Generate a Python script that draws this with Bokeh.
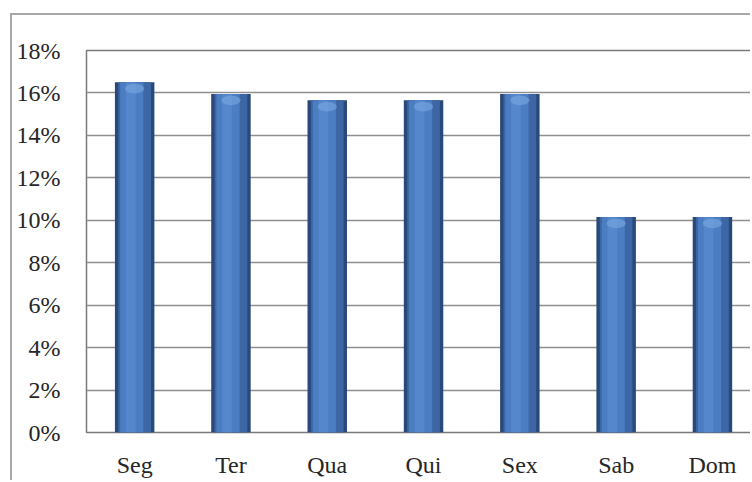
from bokeh.plotting import figure
from bokeh.models import Range1d, FixedTicker
from bokeh.embed import file_html
from bokeh.resources import INLINE

categories = ["Seg", "Ter", "Qua", "Qui", "Sex", "Sab", "Dom"]
values = [16.5, 15.95, 15.65, 15.65, 15.95, 10.15, 10.15]
y_ticks = [0, 2, 4, 6, 8, 10, 12, 14, 16, 18]
y_labels = [f"{t}%" for t in y_ticks]

xs = [i + 0.5 for i in range(len(categories))]

p = figure(width=740, height=467, output_backend="svg", toolbar_location=None,
           x_range=Range1d(0, 6.916), y_range=Range1d(0, 18),
           min_border_left=74, min_border_right=0, min_border_top=35, min_border_bottom=50)
p.styles = {"border-left": "2px solid #a8a8a8", "border-top": "2px solid #a8a8a8",
            "margin-left": "10px", "margin-top": "13px"}
p.background_fill_color = "white"
p.border_fill_color = "white"
p.outline_line_color = "#7a7a7a"
p.outline_line_width = 1.5

# bars: layered to mimic cylinder shading
p.vbar(x=xs, top=values, width=0.41, bottom=0, fill_color="#29497a", line_color=None)
p.vbar(x=xs, top=values, width=0.34, bottom=0, fill_color="#3c66a4", line_color=None)
p.vbar(x=[x - 0.03 for x in xs], top=values, width=0.24, bottom=0, fill_color="#4c7dc2", line_color=None)
p.vbar(x=[x - 0.04 for x in xs], top=values, width=0.1, bottom=0, fill_color="#5587cc", line_color=None)
p.ellipse(x=xs, y=[v - 0.3 for v in values], width=0.2, height=0.45,
          fill_color="#7aa8e0", line_color=None, fill_alpha=0.6)

p.xaxis.ticker = FixedTicker(ticks=xs)
p.xaxis.major_label_overrides = {x: c for x, c in zip(xs, categories)}
p.yaxis.ticker = FixedTicker(ticks=y_ticks)
p.yaxis.major_label_overrides = {t: l for t, l in zip(y_ticks, y_labels)}

for ax in (p.xaxis, p.yaxis):
    ax.axis_line_color = None
    ax.major_tick_line_color = None
    ax.minor_tick_line_color = None
    ax.major_label_text_font = "Liberation Serif"
    ax.major_label_text_font_size = "24px"
    ax.major_label_text_color = "#262626"
p.yaxis.major_label_standoff = 20
p.xaxis.major_label_standoff = 13

p.xgrid.grid_line_color = None
p.ygrid.grid_line_color = "#8f8f8f"
p.ygrid.grid_line_width = 1.5

open("out.html", "w").write(file_html(p, INLINE))
